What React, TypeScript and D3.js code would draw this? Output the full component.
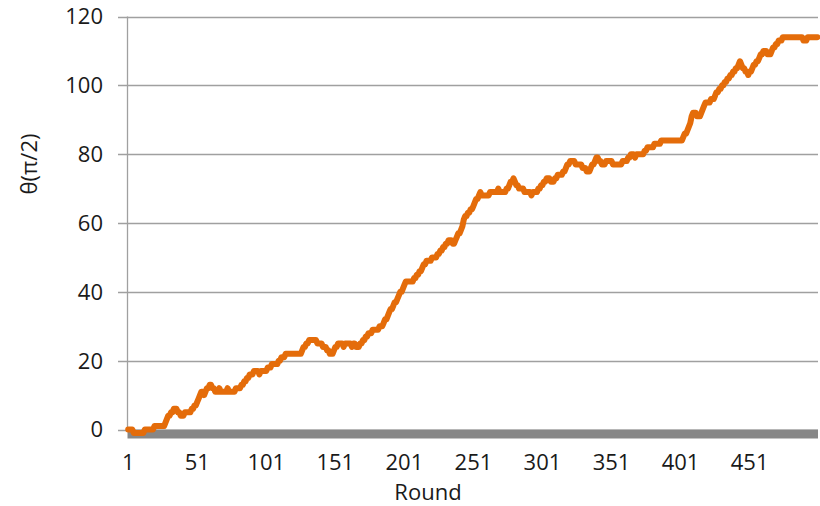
import * as d3 from "d3";

// θ per round (units of π/2)
const theta: number[] = [
  0, 0, 0, 0, -1, -1, -1, -1, -1, -1,
  -1, -1, 0, 0, 0, 0, 0, 0, 0, 1,
  1, 1, 1, 1, 1, 1, 1, 2, 3, 4,
  4, 5, 5, 6, 6, 6, 5, 5, 4, 4,
  4, 5, 5, 5, 5, 5, 6, 6, 7, 7,
  8, 9, 10, 11, 11, 10, 11, 12, 12, 13,
  13, 12, 12, 11, 11, 11, 12, 11, 11, 11,
  11, 11, 12, 11, 11, 11, 11, 11, 12, 12,
  12, 12, 13, 13, 14, 14, 15, 15, 16, 16,
  16, 17, 17, 17, 17, 16, 17, 17, 17, 17,
  17, 18, 18, 18, 19, 19, 19, 19, 19, 20,
  20, 21, 21, 21, 22, 22, 22, 22, 22, 22,
  22, 22, 22, 22, 22, 22, 23, 24, 24, 25,
  25, 26, 26, 26, 26, 26, 26, 25, 25, 25,
  25, 24, 24, 24, 23, 23, 22, 22, 22, 23,
  24, 24, 25, 25, 25, 25, 24, 25, 25, 25,
  25, 25, 24, 25, 25, 24, 24, 24, 25, 25,
  26, 26, 27, 27, 28, 28, 28, 29, 29, 29,
  29, 29, 30, 30, 30, 31, 32, 32, 33, 34,
  35, 35, 36, 37, 37, 38, 39, 40, 40, 41,
  42, 43, 43, 43, 43, 43, 43, 44, 44, 45,
  45, 46, 46, 47, 48, 48, 49, 49, 49, 49,
  50, 50, 50, 50, 51, 51, 52, 52, 53, 53,
  54, 54, 55, 55, 55, 54, 54, 55, 56, 57,
  57, 58, 59, 61, 62, 62, 63, 63, 64, 64,
  65, 66, 67, 67, 68, 69, 68, 68, 68, 68,
  68, 68, 69, 69, 69, 69, 69, 69, 70, 69,
  69, 69, 69, 69, 70, 70, 71, 72, 72, 73,
  72, 71, 71, 70, 70, 70, 70, 69, 69, 69,
  69, 69, 68, 69, 69, 69, 69, 70, 70, 71,
  71, 72, 72, 73, 73, 73, 72, 72, 72, 73,
  73, 74, 74, 74, 74, 75, 75, 76, 77, 77,
  78, 78, 78, 78, 77, 77, 77, 77, 77, 76,
  76, 76, 75, 75, 75, 76, 77, 77, 78, 79,
  79, 78, 78, 77, 77, 77, 78, 78, 78, 78,
  78, 77, 77, 77, 77, 77, 77, 77, 78, 78,
  78, 78, 79, 79, 80, 80, 80, 79, 80, 80,
  80, 80, 80, 80, 81, 81, 82, 82, 82, 82,
  82, 83, 83, 83, 83, 83, 84, 84, 84, 84,
  84, 84, 84, 84, 84, 84, 84, 84, 84, 84,
  84, 84, 85, 86, 86, 87, 88, 89, 91, 92,
  92, 92, 91, 91, 91, 92, 93, 94, 95, 95,
  95, 95, 96, 96, 96, 97, 98, 98, 99, 99,
  100, 100, 101, 101, 102, 102, 103, 103, 104, 104,
  105, 105, 106, 107, 106, 105, 105, 104, 104, 103,
  104, 104, 105, 106, 106, 107, 107, 108, 109, 109,
  110, 110, 110, 109, 109, 109, 110, 111, 111, 112,
  112, 113, 113, 113, 114, 114, 114, 114, 114, 114,
  114, 114, 114, 114, 114, 114, 114, 114, 114, 113,
  113, 113, 114, 114, 114, 114, 114, 114, 114, 114,
];
const rounds: number[] = theta.map((_, i) => i + 1);
const xTickLabels: number[] = [1, 51, 101, 151, 201, 251, 301, 351, 401, 451];
const yTicks: number[] = [0, 20, 40, 60, 80, 100, 120];

const W = 820;
const H = 506;
const left = 127.5;
const right = 818;
const top = 16.5;
const bottom = 429.5;
const font = "'Open Sans', 'Liberation Sans', sans-serif";

export default function App() {
  const x = d3.scaleBand<number>().domain(rounds).range([left, right]).padding(0);
  const cx = (r: number) => (x(r) ?? 0) + x.bandwidth() / 2;
  const y = d3.scaleLinear().domain([0, 120]).range([bottom, top]);

  const line = d3
    .line<number>()
    .x((_, i) => cx(rounds[i]))
    .y((d) => y(d))
    .curve(d3.curveLinear);

  return (
    <svg
      width={W}
      height={H}
      style={{ position: "absolute", left: 0, top: 0, background: "#fff" }}
      fontFamily={font}
    >
      {/* gridlines */}
      {yTicks.map((t) => (
        <line
          key={t}
          x1={118}
          x2={right}
          y1={Math.round(y(t)) + 0.5}
          y2={Math.round(y(t)) + 0.5}
          stroke="#a0a0a0"
          strokeWidth={1.3}
        />
      ))}
      {/* y axis */}
      <line x1={left} x2={left} y1={top} y2={bottom + 1} stroke="#a0a0a0" strokeWidth={1.3} />
      {/* thick x axis bar */}
      <rect x={left} y={y(0)} width={right - left} height={9} fill="#878787" />

      {yTicks.map((t) => (
        <text
          key={t}
          x={103}
          y={y(t)}
          dy="0.36em"
          textAnchor="end"
          fontSize={22}
          fill="#1a1a1a"
        >
          {t}
        </text>
      ))}

      {xTickLabels.map((r) => (
        <text key={r} x={cx(r)} y={470} textAnchor="middle" fontSize={22} fill="#1a1a1a">
          {r}
        </text>
      ))}

      <text x={428} y={500} textAnchor="middle" fontSize={22} fill="#1a1a1a">
        Round
      </text>
      <text
        transform="translate(37,164) rotate(-90)"
        textAnchor="middle"
        fontSize={22}
        fill="#1a1a1a"
      >
        θ(π/2)
      </text>

      <path
        d={line(theta) ?? ""}
        fill="none"
        stroke="#e46c0a"
        strokeWidth={6}
        strokeLinejoin="round"
        strokeLinecap="round"
      />
    </svg>
  );
}
